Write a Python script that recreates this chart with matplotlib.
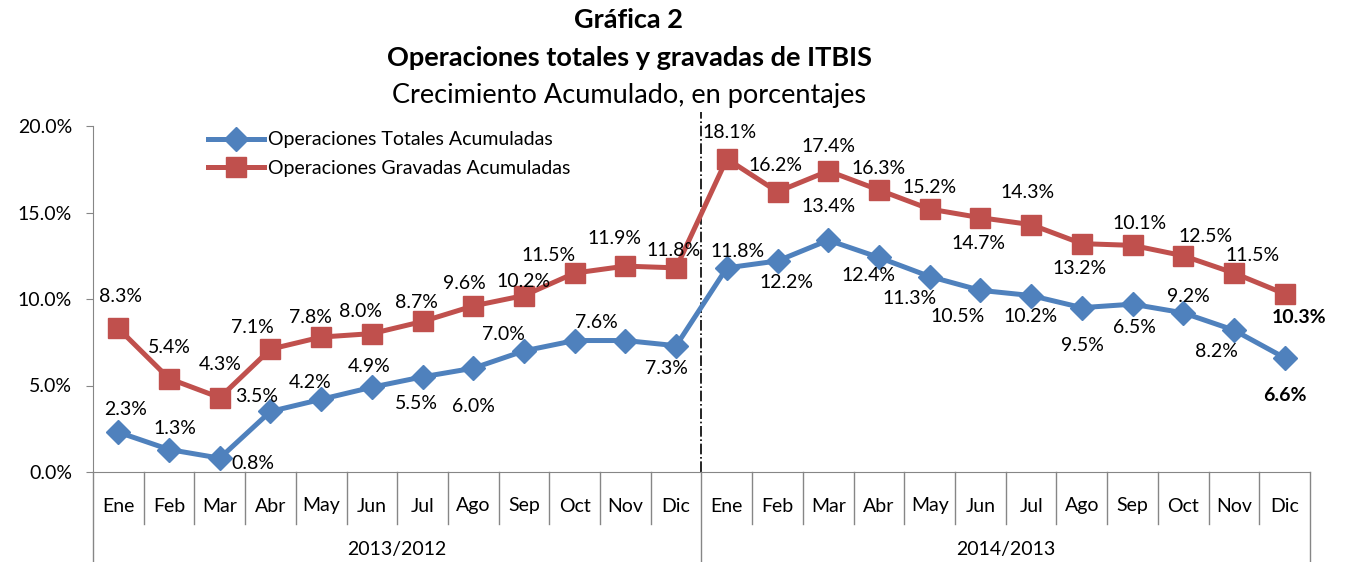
import matplotlib
matplotlib.use("Agg")
import matplotlib.pyplot as plt
from matplotlib.transforms import blended_transform_factory

plt.rcParams['font.family'] = ['Lato', 'DejaVu Sans']

# ==========================================
# Datos
# ==========================================
meses = ["Ene", "Feb", "Mar", "Abr", "May", "Jun", "Jul", "Ago", "Sep", "Oct", "Nov", "Dic"]
periodos = ["2013/2012", "2014/2013"]

totales = [2.3, 1.3, 0.8, 3.5, 4.2, 4.9, 5.5, 6.0, 7.0, 7.6, 7.6, 7.3,
           11.8, 12.2, 13.4, 12.4, 11.3, 10.5, 10.2, 9.5, 9.7, 9.2, 8.2, 6.6]
gravadas = [8.3, 5.4, 4.3, 7.1, 7.8, 8.0, 8.7, 9.6, 10.2, 11.5, 11.9, 11.8,
            18.1, 16.2, 17.4, 16.3, 15.2, 14.7, 14.3, 13.2, 13.1, 12.5, 11.5, 10.3]

# etiquetas tal como aparecen en la gráfica original
etiq_totales = ["2.3%", "1.3%", "0.8%", "3.5%", "4.2%", "4.9%", "5.5%", "6.0%", "7.0%", "7.6%", "", "7.3%",
                "11.8%", "12.2%", "13.4%", "12.4%", "11.3%", "10.5%", "10.2%", "9.5%", "6.5%", "9.2%", "8.2%", "6.6%"]
etiq_gravadas = ["8.3%", "5.4%", "4.3%", "7.1%", "7.8%", "8.0%", "8.7%", "9.6%", "10.2%", "11.5%", "11.9%", "11.8%",
                 "18.1%", "16.2%", "17.4%", "16.3%", "15.2%", "14.7%", "14.3%", "13.2%", "10.1%", "12.5%", "11.5%", "10.3%"]

# desplazamiento de cada etiqueta (pixeles)
off_tot = [(7, 23), (6, 21), (33, -5), (-14, 15), (-11, 17), (-3, 21), (-6, -27), (0, -38), (-21, 16), (22, 18), (0, 0), (-10, -23),
           (11, 16), (9, -22), (0, 34), (-11, -18), (-20, -22), (-23, -26), (-1, -21), (1, -38), (2, -23), (5, 16), (-17, -21), (0, -38)]
off_grav = [(2, 32), (0, 31), (0, 33), (-18, 22), (-11, 20), (-11, 22), (-6, 19), (-9, 22), (0, 14), (-26, 18), (-11, 28), (-3, 17),
            (3, 26), (-2, 26), (0, 24), (0, 22), (0, 22), (-2, -26), (-4, 32), (-2, -25), (7, 22), (22, 19), (19, 18), (14, -24)]

AZUL = "#4F81BD"
ROJO = "#C0504D"
GRIS = "#868686"

# ==========================================
# Figura
# ==========================================
fig = plt.figure(figsize=(13.51, 5.62), dpi=100)
ax = fig.add_axes([93 / 1351, 1 - 472 / 562, (1310 - 93) / 1351, 346 / 562])

x = list(range(len(totales)))
ax.plot(x, totales, color=AZUL, lw=3.6, marker='D', markersize=12, label="Operaciones Totales Acumuladas", zorder=3)
ax.plot(x, gravadas, color=ROJO, lw=3.6, marker='s', markersize=14, label="Operaciones Gravadas Acumuladas", zorder=3)

for i in x:
    bold = 'bold' if i == len(x) - 1 else 'normal'
    if etiq_totales[i]:
        ax.annotate(etiq_totales[i], (i, totales[i]), xytext=off_tot[i], textcoords='offset pixels',
                    ha='center', va='center', fontsize=14, fontweight=bold)
    ax.annotate(etiq_gravadas[i], (i, gravadas[i]), xytext=off_grav[i], textcoords='offset pixels',
                ha='center', va='center', fontsize=14, fontweight=bold)

ax.set_xlim(-0.5, len(x) - 0.5)
ax.set_ylim(0, 20)
ax.set_yticks([0, 5, 10, 15, 20])
ax.set_yticklabels([f"{v:.1f}%" for v in [0, 5, 10, 15, 20]], fontsize=14)
ax.tick_params(axis='y', length=5, color=GRIS, pad=10)
ax.set_xticks([])

for s in ['top', 'right']:
    ax.spines[s].set_visible(False)
ax.spines['left'].set_color(GRIS)
ax.spines['bottom'].set_color(GRIS)

# linea divisoria entre periodos
ax.plot([11.5, 11.5], [0, 20.8], color='black', lw=1.2, ls='-.', clip_on=False, zorder=2)

# eje de categorias en dos niveles
tr = blended_transform_factory(ax.transData, ax.transAxes)
h = 346.0
todos_meses = meses * len(periodos)
for i, m in enumerate(todos_meses):
    ax.text(i, -34 / h, m, transform=tr, ha='center', va='center', fontsize=14)
for k in range(len(todos_meses) + 1):
    xs = k - 0.5
    bajo = -90 / h if k % 12 == 0 else -52 / h
    ax.plot([xs, xs], [0, bajo], transform=tr, color=GRIS, lw=1, clip_on=False)
for j, p in enumerate(periodos):
    ax.text(j * 12 + 5.5, -77 / h, p, transform=tr, ha='center', va='center', fontsize=14)

ax.legend(loc='upper left', bbox_to_anchor=(0.08, 1.035), frameon=False, fontsize=14,
          handlelength=2.9, labelspacing=0.6, handletextpad=0.2)

# titulos
fig.text(629 / 1351, 1 - 20 / 562, "Gráfica 2", ha='center', va='center', fontsize=19.5, fontweight='bold')
fig.text(629 / 1351, 1 - 58 / 562, "Operaciones totales y gravadas de ITBIS", ha='center', va='center',
         fontsize=19.5, fontweight='bold')
fig.text(629 / 1351, 1 - 95 / 562, "Crecimiento Acumulado, en porcentajes", ha='center', va='center', fontsize=19.5)

fig.savefig("out.png", dpi=100)
